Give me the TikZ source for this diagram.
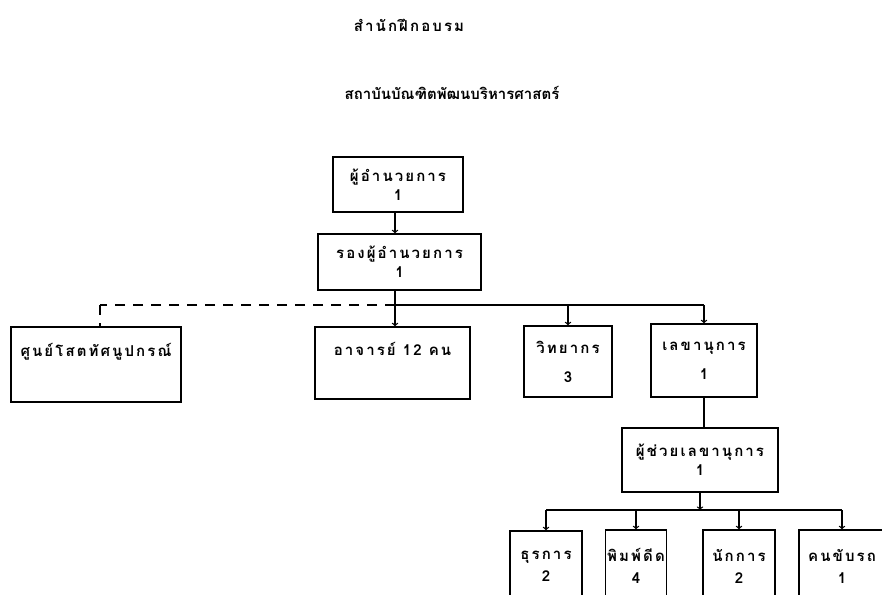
\documentclass[tikz,border=0pt]{standalone}
\usepackage{fontspec}
\newfontfamily\thaifont[Script=Thai,LetterSpace=14]{Loma}
\newfontfamily\thaititle[Script=Thai]{Loma}
\usetikzlibrary{arrows}

\begin{document}
\begin{tikzpicture}[x=1pt,y=-1pt,
    box/.style={draw,line width=1.3pt,rectangle,align=center,inner sep=2pt,
      font=\thaifont\bfseries\fontsize{15}{19}\selectfont},
    link/.style={line width=1.3pt},
    arr/.style={link,->,>=to}]
\useasboundingbox (0,0) rectangle (882,594);
\clip (0,0) rectangle (882,594);
\node[font=\thaifont\bfseries\fontsize{15}{19}\selectfont] (office) at (409,25) {สำนักฝึกอบรม};
\node[font=\thaititle\bfseries\fontsize{15}{19}\selectfont] (inst) at (452,93) {สถาบันบัณฑิตพัฒนบริหารศาสตร์};
\node[box,minimum width=130,minimum height=55] (dir) at (398,184.5) {ผู้อำนวยการ\\1};
\node[box,minimum width=163,minimum height=56] (deputy) at (399.5,262) {รองผู้อำนวยการ\\1};
\node[box,minimum width=170,minimum height=75] (av) at (96,364.5) {ศูนย์โสตทัศนูปกรณ์\\[10pt]~};
\node[box,minimum width=155,minimum height=72] (teacher) at (392.5,363) {อาจารย์ 12 คน\\[10pt]~};
\node[box,minimum width=88,minimum height=71] (lect) at (568,361.5) {วิทยากร\\[10pt]3};
\node[box,minimum width=106,minimum height=73] (sec) at (704,360.5) {เลขานุการ\\[10pt]1};
\node[box,minimum width=156,minimum height=64] (asst) at (700,460) {ผู้ช่วยเลขานุการ\\1};
\node[box,minimum width=72,minimum height=70] (clerk) at (546,566) {ธุรการ\\[3pt]2};
\node[box,minimum width=55,minimum height=72] (typist) at (636,566) {พิมพ์ดีด\\[3pt]4};
\node[box,minimum width=72,minimum height=72] (janitor) at (739,566) {นักการ\\[3pt]2};
\node[box,minimum width=86,minimum height=72] (driver) at (842,566) {คนขับรถ\\[3pt]1};
\coordinate (bus) at (395,305);
\coordinate (busleft) at (100,305);
\coordinate (bus2) at (700,510);
\draw[arr] (dir.south -| bus) -- (deputy.north -| bus);
\draw[arr] (deputy.south -| bus) -- (teacher.north -| bus);
\draw[link,dash pattern=on 10pt off 8pt] (bus) -- (busleft);
\draw[link,dash pattern=on 10pt off 8pt] (busleft) -- (av.north -| busleft);
\draw[link] (bus) -- (bus -| sec);
\draw[arr] (bus -| lect) -- (lect.north);
\draw[arr] (bus -| sec) -- (sec.north);
\draw[link] (sec.south) -- (asst.north -| sec.south);
\draw[arr] (asst.south) -- (bus2);
\draw[link] (bus2 -| clerk) -- (bus2 -| driver);
\foreach \n in {clerk,typist,janitor,driver}
  \draw[arr] (bus2 -| \n) -- (\n.north);
\end{tikzpicture}
\end{document}
